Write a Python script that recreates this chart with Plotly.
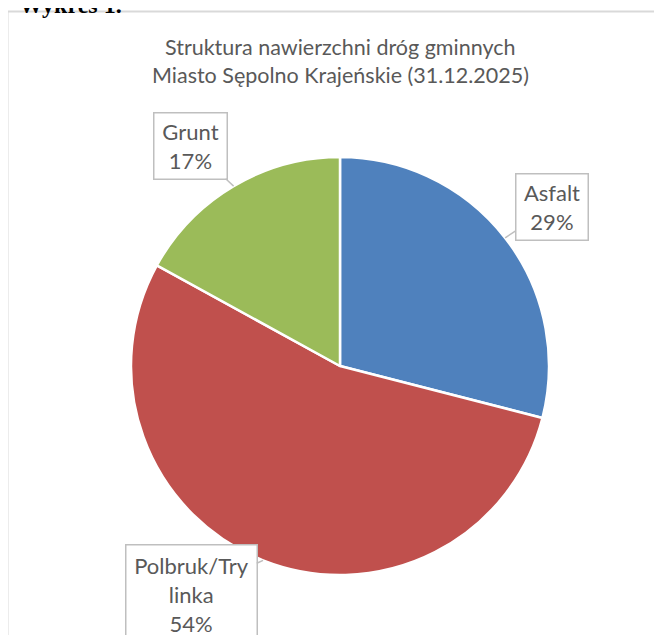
"""
Struktura nawierzchni dróg gminnych - wykres kołowy
"""

import numpy as np
import plotly.graph_objects as go

FONT = "Lato"
TITLE_FONT = "Lato"
FG_COLOR = "#595959"
BORDER_COLOR = "#D9D9D9"
LABEL_BORDER_COLOR = "#BFBFBF"
BG_COLOR = "#FFFFFF"

WIDTH, HEIGHT = 662, 635
PAGE_OFFSET = 8  # the browser puts the figure 8px in from the corner

# data
LABELS = ["Asfalt", "Polbruk/Trylinka", "Grunt"]
LABEL_TEXT = ["Asfalt", "Polbruk/Try<br>linka", "Grunt"]
VALUES = [29, 54, 17]
COLORS = ["#4F81BD", "#C0504D", "#9BBB59"]

TITLE_LINES = [
    "Struktura nawierzchni dróg gminnych",
    "Miasto Sępolno Krajeńskie (31.12.2025)",
]

# pie geometry in screen pixels (center and radius)
CX, CY, R = 340, 366, 209

# callout box centres (px) and sizes
BOXES = [
    dict(cx=551.5, cy=206.5, w=73, h=67),
    dict(cx=191, cy=594, w=132, h=100),
    dict(cx=190, cy=145.5, w=74, h=67),
]


def px_to_paper(x, y):
    return (x - PAGE_OFFSET) / WIDTH, 1 - (y - PAGE_OFFSET) / HEIGHT


def plot_pie():
    fig = go.Figure()
    x0, y_top = px_to_paper(CX - R, CY - R)
    x1, y_bot = px_to_paper(CX + R, CY + R)
    fig.add_trace(
        go.Pie(
            labels=LABELS,
            values=VALUES,
            sort=False,
            direction="clockwise",
            rotation=0,
            marker=dict(colors=COLORS, line=dict(color="white", width=2.5)),
            textinfo="none",
            hoverinfo="label+percent",
            showlegend=False,
            domain=dict(x=[x0, x1], y=[y_bot, y_top]),
        )
    )

    # callouts pointing at the middle of each slice
    total = float(sum(VALUES))
    cum = np.cumsum([0] + VALUES[:-1])
    for i, (label, v) in enumerate(zip(LABEL_TEXT, VALUES)):
        mid = (cum[i] + v / 2) / total * 2 * np.pi
        tip_x = CX + R * np.sin(mid)
        tip_y = CY - R * np.cos(mid)
        box = BOXES[i]
        px, py = px_to_paper(tip_x, tip_y)
        fig.add_annotation(
            x=px,
            y=py,
            xref="paper",
            yref="paper",
            text=f"{label}<br>{round(v / total * 100)}%",
            showarrow=True,
            arrowhead=0,
            arrowwidth=1.5,
            arrowcolor=LABEL_BORDER_COLOR,
            ax=box["cx"] - tip_x,
            ay=box["cy"] - tip_y,
            width=box["w"] - 4,
            height=box["h"] - 4,
            bordercolor=LABEL_BORDER_COLOR,
            borderwidth=1.5,
            borderpad=1,
            bgcolor="white",
            font=dict(family=FONT, size=22, color=FG_COLOR),
            align="center",
        )

    # title
    for j, line in enumerate(TITLE_LINES):
        tx, ty = px_to_paper(CX, 47 + 28 * j)
        fig.add_annotation(
            x=tx,
            y=ty,
            xref="paper",
            yref="paper",
            text=line,
            showarrow=False,
            xanchor="center",
            yanchor="middle",
            font=dict(family=TITLE_FONT, size=21.5, color=FG_COLOR),
        )

    # caption above the chart frame, cut off by the page edge
    cx_, cy_ = px_to_paper(17, 5)
    fig.add_annotation(
        x=cx_,
        y=cy_,
        xref="paper",
        yref="paper",
        text="<b>Wykres 1.</b>",
        showarrow=False,
        xanchor="left",
        yanchor="middle",
        font=dict(family="Liberation Serif", size=24, color="black"),
    )

    # chart frame
    fx0, fy0 = px_to_paper(7.5, 11.5)
    fig.add_shape(
        type="rect",
        xref="paper",
        yref="paper",
        x0=fx0,
        y0=-0.1,
        x1=1.1,
        y1=fy0,
        line=dict(color=BORDER_COLOR, width=2),
        layer="below",
    )

    fig.update_layout(
        width=WIDTH,
        height=HEIGHT,
        margin=dict(l=0, r=0, t=0, b=0),
        plot_bgcolor=BG_COLOR,
        paper_bgcolor=BG_COLOR,
        font_family=FONT,
        hoverlabel_font_family=FONT,
    )
    return fig


fig = plot_pie()
fig.write_html("out.html")
